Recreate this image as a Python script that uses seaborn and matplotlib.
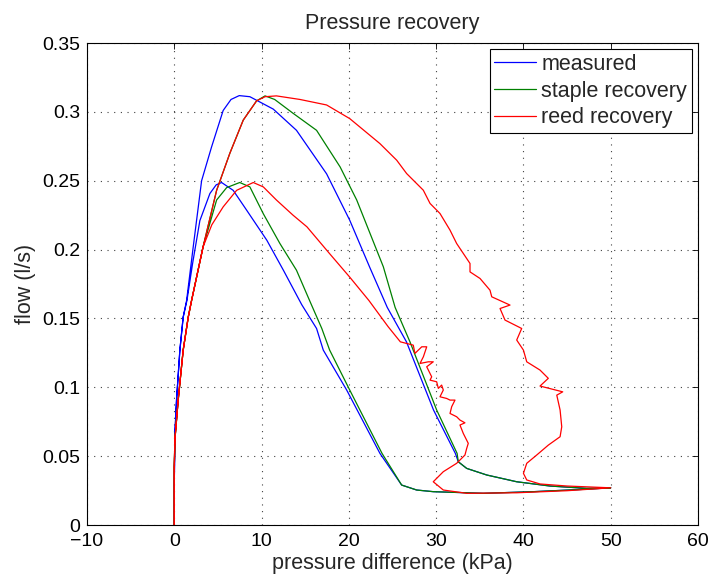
import numpy as np
import pandas as pd
import matplotlib
matplotlib.use("Agg")
import matplotlib.pyplot as plt
import seaborn as sns

# ---------------- data ----------------
series_names = ["measured", "staple recovery", "reed recovery"]

# measured (blue): small loop up/down, bottom out to 50 kPa, back along large loop
measured_p = [0, 0, 0.07, 0.26, 0.64, 1.02, 1.45, 2.1, 2.93, 4.08, 4.8, 5.42,
              6.75, 8.29, 10.6, 12.5, 14.6, 16.3, 17.07, 19.75, 23.56, 26.05,
              27.77, 29.67, 35.4, 41.14, 46.87, 50,
              47.25, 43.05, 39.23, 35.8, 33.5, 32.54,
              32.2, 29.7, 26.6, 24.4, 22.4, 20.1, 17.45, 14.0, 11.34, 8.66, 7.44,
              6.5, 5.6, 4.27, 3.13, 2.17, 1.41, 1.02, 0.64, 0.26, 0.07, 0, 0]
measured_q = [0, 0.03, 0.066, 0.091, 0.127, 0.151, 0.163, 0.19, 0.221, 0.2407, 0.247, 0.2487,
              0.243, 0.2286, 0.2068, 0.185, 0.16, 0.1427, 0.127, 0.098, 0.052, 0.029,
              0.0254, 0.0242, 0.023, 0.0242, 0.0259, 0.027,
              0.0266, 0.0283, 0.0314, 0.0363, 0.0411, 0.0459,
              0.052, 0.0835, 0.133, 0.158, 0.187, 0.2213, 0.255, 0.2866, 0.302, 0.311, 0.3118,
              0.309, 0.301, 0.2745, 0.25, 0.202, 0.163, 0.151, 0.127, 0.091, 0.066, 0.03, 0]

# staple recovery (green)
staple_p = [0, 0, 0.07, 0.45, 1.02, 1.6, 1.98, 3.3, 4.85, 6.0, 7.5,
            8.66, 10.2, 12.1, 14.0, 15.5, 16.9, 17.8, 20.1, 23.8, 26.05,
            27.77, 29.67, 35.4, 41.14, 46.87, 50,
            47.25, 43.05, 39.23, 35.8, 33.5, 32.54,
            32.4, 30.06, 27.0, 25.3, 23.95, 20.9, 19.0, 16.3, 13.6, 11.5, 10.4,
            9.43, 7.9, 6.37, 4.85, 3.3, 1.98, 1.6, 1.02, 0.45, 0.07, 0, 0]
staple_q = [0, 0.042, 0.062, 0.091, 0.127, 0.151, 0.163, 0.202, 0.236, 0.245, 0.2487,
            0.2455, 0.226, 0.2044, 0.185, 0.163, 0.1427, 0.127, 0.098, 0.052, 0.029,
            0.0254, 0.0242, 0.023, 0.0242, 0.0259, 0.027,
            0.0266, 0.0283, 0.0314, 0.0363, 0.0411, 0.0459,
            0.052, 0.0835, 0.133, 0.158, 0.1875, 0.236, 0.26, 0.2866, 0.299, 0.309, 0.3116,
            0.308, 0.294, 0.27, 0.243, 0.202, 0.163, 0.151, 0.127, 0.091, 0.062, 0.042, 0]

# reed recovery (red)
reed_p = [0, 0, 0.07, 0.45, 1.02, 1.6, 1.98, 3.3, 4.3, 5.6, 7.14, 9.05,
          10.2, 11.7, 13.6, 15.2, 17.8, 20.1, 22.3, 24.5, 25.9,
          27.38, 27.57, 28.35, 28.92, 28.54, 28.15, 29.1, 29.67, 28.92, 29.49, 29.3,
          30.06, 30.25, 30.63, 30.82, 30.44, 31.2, 31.59, 32.16, 31.78, 31.59, 32.35,
          32.73, 33.3, 32.73, 33.11, 33.68, 33.5, 33.3, 32.35, 30.82, 29.67, 30.82,
          33.5, 39.23, 45.0, 50,
          45.0, 41.9, 40.38, 40.0, 40.38, 41.52, 42.85, 44.2, 44.39, 44.2, 43.82, 44.5,
          41.9, 42.85, 41.9, 40.38, 40.0, 39.23, 39.8, 37.89, 37.32, 38.46, 36.37,
          36.17, 35.03, 33.88, 33.88, 33.11, 32.35, 31.59, 30.44, 29.3, 28.53, 26.62,
          25.48, 23.55, 20.1, 17.45, 14.4, 11.7,
          10.4, 9.43, 7.9, 6.37, 4.85, 3.3, 1.98, 1.6, 1.02, 0.45, 0.07, 0, 0]
reed_q = [0, 0.042, 0.062, 0.091, 0.127, 0.151, 0.163, 0.202, 0.218, 0.231, 0.243, 0.2487,
          0.2455, 0.236, 0.225, 0.2165, 0.197, 0.18, 0.163, 0.144, 0.133,
          0.1306, 0.1246, 0.1294, 0.1294, 0.1222, 0.1173, 0.1185, 0.1185, 0.1149, 0.1076, 0.1052,
          0.104, 0.0992, 0.1016, 0.098, 0.0931, 0.0919, 0.0907, 0.0907, 0.0859, 0.081, 0.0786,
          0.0762, 0.0742, 0.0726, 0.0665, 0.0593, 0.0556, 0.0508, 0.0448, 0.0387, 0.0314, 0.0254,
          0.023, 0.0234, 0.0249, 0.027,
          0.0283, 0.0298, 0.0327, 0.0375, 0.0448, 0.0508, 0.058, 0.0641, 0.0713, 0.0835, 0.0943, 0.0967,
          0.1009, 0.1065, 0.1125, 0.1185, 0.127, 0.1343, 0.1427, 0.1488, 0.1572, 0.1597, 0.1657,
          0.1705, 0.179, 0.1838, 0.1899, 0.1972, 0.2044, 0.2141, 0.2262, 0.2335, 0.2431, 0.2552,
          0.2649, 0.277, 0.2951, 0.305, 0.309, 0.3116,
          0.311, 0.308, 0.294, 0.27, 0.243, 0.202, 0.163, 0.151, 0.127, 0.091, 0.062, 0.042, 0]

x_ticks = [-10, 0, 10, 20, 30, 40, 50, 60]
y_ticks = [0, 0.05, 0.1, 0.15, 0.2, 0.25, 0.3, 0.35]
y_tick_labels = ["0", "0.05", "0.1", "0.15", "0.2", "0.25", "0.3", "0.35"]

# ---------------- build frame ----------------
frames = []
for name, p, q in zip(series_names, [measured_p, staple_p, reed_p], [measured_q, staple_q, reed_q]):
    frames.append(pd.DataFrame({"p": p, "q": q, "series": name, "order": np.arange(len(p))}))
df = pd.concat(frames, ignore_index=True)

# ---------------- style ----------------
sns.set_theme(style="white")
plt.rcParams["font.family"] = ["Liberation Sans", "DejaVu Sans"]
plt.rcParams["axes.unicode_minus"] = True

fig = plt.figure(figsize=(7.1, 5.79), dpi=100)
ax = fig.add_axes([87 / 710, 1 - 525 / 579, (698 - 87) / 710, (525 - 43) / 579])

palette = {"measured": (0, 0, 1), "staple recovery": (0, 0.5, 0), "reed recovery": (1, 0, 0)}
sns.lineplot(data=df, x="p", y="q", hue="series", palette=palette, sort=False,
             estimator=None, ax=ax, linewidth=0.9, hue_order=series_names)

ax.set_xlim(-10, 60)
ax.set_ylim(0, 0.35)
ax.set_xticks(x_ticks)
ax.set_yticks(y_ticks)
ax.set_yticklabels(y_tick_labels)

ax.grid(True, linestyle=(0, (1, 5)), color="0.25", linewidth=0.8)
for s in ax.spines.values():
    s.set_visible(True)
    s.set_color("black")
    s.set_linewidth(0.8)

ax.tick_params(axis="both", which="both", direction="in", length=4, width=0.6,
               top=True, right=True, labelsize=14, colors="black", pad=5)
ax.tick_params(axis="x", pad=6)

ax.set_xlabel("pressure difference (kPa)", fontsize=15.5, labelpad=2)
ax.set_ylabel("flow (l/s)", fontsize=15.5, labelpad=4)
ax.set_title("Pressure recovery", fontsize=15.5, pad=10)

leg = ax.legend(loc="upper right", fontsize=15.5, frameon=True, fancybox=False,
                framealpha=1, edgecolor="black", handlelength=1.95, handletextpad=0.25,
                labelspacing=0.27, borderpad=0.2, borderaxespad=0.3)
leg.get_frame().set_linewidth(0.8)
for line in leg.get_lines():
    line.set_linewidth(0.9)

fig.savefig("out.png", dpi=100)
